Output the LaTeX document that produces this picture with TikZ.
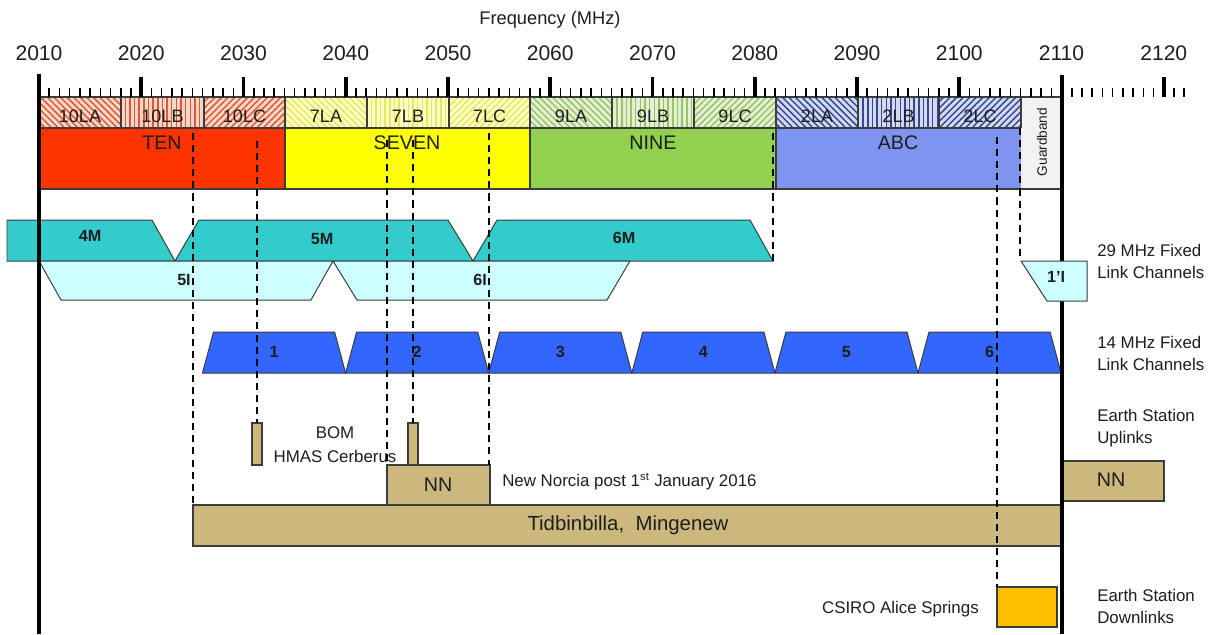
\documentclass[tikz,border=0pt]{standalone}
\usepackage{fontspec}
\setmainfont{Liberation Sans}
\usetikzlibrary{patterns.meta}
\definecolor{tenc}{RGB}{255,51,0}
\definecolor{tenbg}{RGB}{248,214,200}
\definecolor{tenln}{RGB}{222,88,52}
\definecolor{sevc}{RGB}{255,255,0}
\definecolor{sevbg}{RGB}{255,255,200}
\definecolor{sevln}{RGB}{236,228,90}
\definecolor{ninc}{RGB}{146,208,80}
\definecolor{ninbg}{RGB}{228,240,212}
\definecolor{ninln}{RGB}{150,195,100}
\definecolor{abcc}{RGB}{127,148,240}
\definecolor{abcbg}{RGB}{210,218,242}
\definecolor{abcln}{RGB}{55,70,145}
\definecolor{gbc}{RGB}{242,242,242}
\definecolor{mch}{RGB}{51,204,204}
\definecolor{ich}{RGB}{204,255,255}
\definecolor{fch}{RGB}{51,102,255}
\definecolor{tanc}{RGB}{204,183,125}
\definecolor{orc}{RGB}{255,192,0}
\definecolor{txt}{RGB}{30,30,30}
\definecolor{edge}{RGB}{60,60,60}
\newcommand\fsz[1]{\fontsize{#1}{#1}\selectfont}
\tikzset{
  axnum/.style={font=\fsz{15}, text=txt, inner sep=0pt},
  sublbl/.style={font=\fsz{12.8}, text=txt, inner sep=0pt},
  bandlbl/.style={font=\fsz{14}, text=txt, inner sep=0pt},
  chlbl/.style={font=\fsz{11.5}\bfseries, text=txt, inner sep=0pt},
  sidelbl/.style={font=\fontsize{12}{15.6}\selectfont, text=txt, align=left, anchor=west, inner sep=0pt},
  eslbl/.style={font=\fsz{12}, text=txt, inner sep=0pt},
  shp/.style={draw=edge, line width=0.7pt},
  esbox/.style={draw=edge, line width=0.8pt, fill=tanc},
  dash line/.style={line width=1.4pt, dash pattern=on 5pt off 3.6pt, draw=black},
  minortick/.style={line width=1.1pt, draw=black},
  majortick/.style={line width=2.8pt, draw=black},
  bigline/.style={line width=3pt, draw=black},
  divider/.style={line width=0.9pt, draw=edge},
}
\begin{document}
\begin{tikzpicture}[x=0.025cm, y=-0.025cm]
\useasboundingbox (0,0) rectangle (1211,634);
% ---- main bands
\fill[tenc] (39,128) rectangle (285,189);
\fill[sevc] (285,128) rectangle (530,189);
\fill[ninc] (530,128) rectangle (776,189);
\fill[abcc] (776,128) rectangle (1021,189);
\fill[gbc] (1021,97) rectangle (1062,189);
% ---- sub channels
\foreach \xa/\xb/\bg/\ln/\ang/\tx [count=\i] in {
  39/121/tenbg/tenln/-45/10LA, 121/204/tenbg/tenln/90/10LB, 204/285/tenbg/tenln/45/10LC,
  285/367/sevbg/sevln/-45/7LA, 367/449/sevbg/sevln/90/7LB, 449/530/sevbg/sevln/45/7LC,
  530/612/ninbg/ninln/-45/9LA, 612/694/ninbg/ninln/90/9LB, 694/776/ninbg/ninln/45/9LC,
  776/858/abcbg/abcln/-45/2LA, 858/939/abcbg/abcln/90/2LB, 939/1021/abcbg/abcln/45/2LC}{
  \path[fill=\bg, postaction={pattern={Lines[angle=\ang,distance=3.3pt,line width=1.05pt]}, pattern color=\ln}] (\xa,97) rectangle (\xb,128);
  \draw[divider] (\xa,97) -- (\xa,128);
  \node[sublbl] (sub\i) at ({(\xa+\xb)/2},116) {\tx};
}
\draw[divider] (39,97) -- (1062,97);
\draw[divider] (39,128) -- (1021,128);
\draw[divider] (1021,97) -- (1021,128);
\draw[divider] (39,189) -- (1062,189);
\draw[divider] (285,128) -- (285,189);
\draw[divider] (530,128) -- (530,189);
\draw[divider] (776,128) -- (776,189);
% band labels
\node[bandlbl] (ten) at (162,143) {TEN};
\node[bandlbl] (seven) at (407,143) {SEVEN};
\node[bandlbl] (nine) at (653,143) {NINE};
\node[bandlbl] (abc) at (898,143) {ABC};
\node[font=\fsz{9.7}, text=txt, rotate=90, inner sep=0pt] (guard) at (1042,142) {Guardband};
% ---- ticks
\foreach \i in {1,...,112}{
  \ifnum\i=100\else
  \pgfmathsetmacro\xx{39+\i*10.225}
  \pgfmathtruncatemacro\md{mod(\i,10)}
  \ifnum\md=0
    \draw[majortick] (\xx,77) -- (\xx,97);
  \else
    \draw[minortick] (\xx,88) -- (\xx,97);
  \fi
  \fi
}
\foreach \i in {0,...,11}{
  \pgfmathsetmacro\xx{39+\i*102.25}
  \pgfmathtruncatemacro\ff{2010+10*\i}
  \node[axnum] (ax\i) at (\xx,53) {\ff};
}
\node[font=\fsz{13}, text=txt, inner sep=0pt] (freq) at (550,20) {Frequency (MHz)};
% ---- 29 MHz fixed link channels
\draw[shp, fill=mch] (7,220) -- (152,220) -- (175,261) -- (7,261) -- cycle;
\draw[shp, fill=mch] (175,261) -- (199,220) -- (448,220) -- (473,261) -- cycle;
\draw[shp, fill=mch] (473,261) -- (497,220) -- (750,220) -- (773,261) -- cycle;
\draw[shp, fill=ich] (39,261) -- (333,261) -- (311,300) -- (61,300) -- cycle;
\draw[shp, fill=ich] (333,261) -- (630,261) -- (607,300) -- (357,300) -- cycle;
\node[chlbl] (m4) at (90,236) {4M};
\node[chlbl] (m5) at (322,239) {5M};
\node[chlbl] (m6) at (624,238) {6M};
\node[chlbl] (i5) at (184,280) {5I};
\node[chlbl] (i6) at (480,280) {6I};
% ---- 14 MHz fixed link channels
\foreach \k in {1,...,6}{
  \pgfmathsetmacro\xa{202.5+(\k-1)*143.1}
  \pgfmathsetmacro\xb{202.5+\k*143.1}
  \draw[shp, fill=fch] (\xa,373) -- (\xa+11,332) -- (\xb-11,332) -- (\xb,373) -- cycle;
  \node[chlbl] (c\k) at ({(\xa+\xb)/2},352) {\k};
}
% ---- earth station boxes
\draw[esbox] (252,423) rectangle (262,465);
\draw[esbox] (408,423) rectangle (418,465);
\draw[esbox] (387,465) rectangle (490,505);
\draw[esbox] (193,505) rectangle (1061,546);
\draw[esbox] (1063,461) rectangle (1164,501);
\draw[draw=edge, line width=0.8pt, fill=orc] (997,587) rectangle (1057,627);
\node[font=\fsz{14}, text=txt, inner sep=0pt] (nnl) at (438,485) {NN};
\node[font=\fsz{14}, text=txt, inner sep=0pt] (nnr) at (1111,480) {NN};
\node[font=\fsz{14.5}, text=txt, inner sep=0pt] (tid) at (628,525) {Tidbinbilla,\ \ Mingenew};
\node[eslbl, anchor=west] (nnpost) at (502,482) {New Norcia post 1\textsuperscript{st} January 2016};
\node[eslbl] (bom) at (335,433) {BOM};
\node[eslbl] (hmas) at (335,456) {HMAS Cerberus};
\node[eslbl, anchor=east] (csiro) at (979,609) {CSIRO Alice Springs};
% ---- thick frequency limits
\draw[bigline] (39,74) -- (39,634);
\draw[bigline] (1062,75) -- (1062,634);
% 1'I channel over the limit line
\draw[shp, fill=ich] (1021,261) -- (1087,261) -- (1087,301) -- (1047,301) -- cycle;
\node[chlbl] (i1) at (1056,277) {1'I};
% ---- side labels
\node[sidelbl] (l29) at (1097,261) {29 MHz Fixed\\Link Channels};
\node[sidelbl] (l14) at (1097,353) {14 MHz Fixed\\Link Channels};
\node[sidelbl] (lup) at (1097,428) {Earth Station\\Uplinks};
\node[sidelbl] (ldn) at (1097,606) {Earth Station\\Downlinks};
% ---- dashed reference lines
\coordinate (d1a) at (193,133); \coordinate (d1b) at (193,505);
\coordinate (d2a) at (257,141); \coordinate (d2b) at (257,423);
\coordinate (d3a) at (387,140); \coordinate (d3b) at (387,465);
\coordinate (d4a) at (413,140); \coordinate (d4b) at (413,423);
\coordinate (d5a) at (489,133); \coordinate (d5b) at (489,465);
\coordinate (d6a) at (773,133); \coordinate (d6b) at (773,261);
\coordinate (d7a) at (997,137); \coordinate (d7b) at (997,587);
\coordinate (d8a) at (1020,128); \coordinate (d8b) at (1020,261);
\foreach \n in {1,...,8}{ \draw[dash line] (d\n a) -- (d\n b); }
\end{tikzpicture}
\end{document}
